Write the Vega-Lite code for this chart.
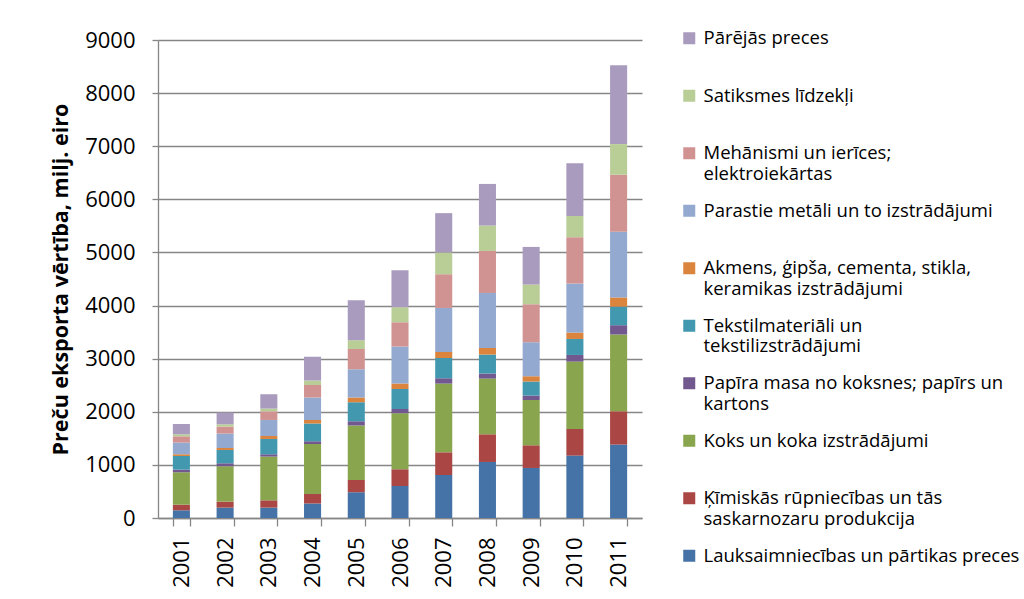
{
  "$schema": "https://vega.github.io/schema/vega-lite/v6.json",
  "autosize": "none",
  "width": 484,
  "height": 478,
  "padding": {"left": 158, "top": 40, "right": 382, "bottom": 81},
  "background": "white",
  "data": {"values": [
    {"year":"2001","cat":"Lauksaimniecības un pārtikas preces","v":145},
    {"year":"2001","cat":"Ķīmiskās rūpniecības un tās saskarnozaru produkcija","v":107},
    {"year":"2001","cat":"Koks un koka izstrādājumi","v":609},
    {"year":"2001","cat":"Papīra masa no koksnes; papīrs un kartons","v":50},
    {"year":"2001","cat":"Tekstilmateriāli un tekstilizstrādājumi","v":257},
    {"year":"2001","cat":"Akmens, ģipša, cementa, stikla, keramikas izstrādājumi","v":32},
    {"year":"2001","cat":"Parastie metāli un to izstrādājumi","v":220},
    {"year":"2001","cat":"Mehānismi un ierīces; elektroiekārtas","v":118},
    {"year":"2001","cat":"Satiksmes līdzekļi","v":38},
    {"year":"2001","cat":"Pārējās preces","v":194},
    {"year":"2002","cat":"Lauksaimniecības un pārtikas preces","v":196},
    {"year":"2002","cat":"Ķīmiskās rūpniecības un tās saskarnozaru produkcija","v":113},
    {"year":"2002","cat":"Koks un koka izstrādājumi","v":665},
    {"year":"2002","cat":"Papīra masa no koksnes; papīrs un kartons","v":56},
    {"year":"2002","cat":"Tekstilmateriāli un tekstilizstrādājumi","v":251},
    {"year":"2002","cat":"Akmens, ģipša, cementa, stikla, keramikas izstrādājumi","v":37},
    {"year":"2002","cat":"Parastie metāli un to izstrādājumi","v":271},
    {"year":"2002","cat":"Mehānismi un ierīces; elektroiekārtas","v":132},
    {"year":"2002","cat":"Satiksmes līdzekļi","v":44},
    {"year":"2002","cat":"Pārējās preces","v":220},
    {"year":"2003","cat":"Lauksaimniecības un pārtikas preces","v":196},
    {"year":"2003","cat":"Ķīmiskās rūpniecības un tās saskarnozaru produkcija","v":137},
    {"year":"2003","cat":"Koks un koka izstrādājumi","v":823},
    {"year":"2003","cat":"Papīra masa no koksnes; papīrs un kartons","v":44},
    {"year":"2003","cat":"Tekstilmateriāli un tekstilizstrādājumi","v":288},
    {"year":"2003","cat":"Akmens, ģipša, cementa, stikla, keramikas izstrādājumi","v":56},
    {"year":"2003","cat":"Parastie metāli un to izstrādājumi","v":302},
    {"year":"2003","cat":"Mehānismi un ierīces; elektroiekārtas","v":163},
    {"year":"2003","cat":"Satiksmes līdzekļi","v":51},
    {"year":"2003","cat":"Pārējās preces","v":270},
    {"year":"2004","cat":"Lauksaimniecības un pārtikas preces","v":275},
    {"year":"2004","cat":"Ķīmiskās rūpniecības un tās saskarnozaru produkcija","v":177},
    {"year":"2004","cat":"Koks un koka izstrādājumi","v":940},
    {"year":"2004","cat":"Papīra masa no koksnes; papīrs un kartons","v":52},
    {"year":"2004","cat":"Tekstilmateriāli un tekstilizstrādājumi","v":334},
    {"year":"2004","cat":"Akmens, ģipša, cementa, stikla, keramikas izstrādājumi","v":66},
    {"year":"2004","cat":"Parastie metāli un to izstrādājumi","v":427},
    {"year":"2004","cat":"Mehānismi un ierīces; elektroiekārtas","v":232},
    {"year":"2004","cat":"Satiksmes līdzekļi","v":88},
    {"year":"2004","cat":"Pārējās preces","v":447},
    {"year":"2005","cat":"Lauksaimniecības un pārtikas preces","v":484},
    {"year":"2005","cat":"Ķīmiskās rūpniecības un tās saskarnozaru produkcija","v":232},
    {"year":"2005","cat":"Koks un koka izstrādājumi","v":1024},
    {"year":"2005","cat":"Papīra masa no koksnes; papīrs un kartons","v":81},
    {"year":"2005","cat":"Tekstilmateriāli un tekstilizstrādājumi","v":358},
    {"year":"2005","cat":"Akmens, ģipša, cementa, stikla, keramikas izstrādājumi","v":88},
    {"year":"2005","cat":"Parastie metāli un to izstrādājumi","v":533},
    {"year":"2005","cat":"Mehānismi un ierīces; elektroiekārtas","v":383},
    {"year":"2005","cat":"Satiksmes līdzekļi","v":164},
    {"year":"2005","cat":"Pārējās preces","v":753},
    {"year":"2006","cat":"Lauksaimniecības un pārtikas preces","v":603},
    {"year":"2006","cat":"Ķīmiskās rūpniecības un tās saskarnozaru produkcija","v":314},
    {"year":"2006","cat":"Koks un koka izstrādājumi","v":1055},
    {"year":"2006","cat":"Papīra masa no koksnes; papīrs un kartons","v":81},
    {"year":"2006","cat":"Tekstilmateriāli un tekstilizstrādājumi","v":376},
    {"year":"2006","cat":"Akmens, ģipša, cementa, stikla, keramikas izstrādājumi","v":102},
    {"year":"2006","cat":"Parastie metāli un to izstrādājumi","v":697},
    {"year":"2006","cat":"Mehānismi un ierīces; elektroiekārtas","v":457},
    {"year":"2006","cat":"Satiksmes līdzekļi","v":283},
    {"year":"2006","cat":"Pārējās preces","v":697},
    {"year":"2007","cat":"Lauksaimniecības un pārtikas preces","v":810},
    {"year":"2007","cat":"Ķīmiskās rūpniecības un tās saskarnozaru produkcija","v":427},
    {"year":"2007","cat":"Koks un koka izstrādājumi","v":1294},
    {"year":"2007","cat":"Papīra masa no koksnes; papīrs un kartons","v":100},
    {"year":"2007","cat":"Tekstilmateriāli un tekstilizstrādājumi","v":382},
    {"year":"2007","cat":"Akmens, ģipša, cementa, stikla, keramikas izstrādājumi","v":113},
    {"year":"2007","cat":"Parastie metāli un to izstrādājumi","v":829},
    {"year":"2007","cat":"Mehānismi un ierīces; elektroiekārtas","v":635},
    {"year":"2007","cat":"Satiksmes līdzekļi","v":410},
    {"year":"2007","cat":"Pārējās preces","v":740},
    {"year":"2008","cat":"Lauksaimniecības un pārtikas preces","v":1055},
    {"year":"2008","cat":"Ķīmiskās rūpniecības un tās saskarnozaru produkcija","v":521},
    {"year":"2008","cat":"Koks un koka izstrādājumi","v":1049},
    {"year":"2008","cat":"Papīra masa no koksnes; papīrs un kartons","v":94},
    {"year":"2008","cat":"Tekstilmateriāli un tekstilizstrādājumi","v":358},
    {"year":"2008","cat":"Akmens, ģipša, cementa, stikla, keramikas izstrādājumi","v":125},
    {"year":"2008","cat":"Parastie metāli un to izstrādājumi","v":1035},
    {"year":"2008","cat":"Mehānismi un ierīces; elektroiekārtas","v":791},
    {"year":"2008","cat":"Satiksmes līdzekļi","v":479},
    {"year":"2008","cat":"Pārējās preces","v":783},
    {"year":"2009","cat":"Lauksaimniecības un pārtikas preces","v":942},
    {"year":"2009","cat":"Ķīmiskās rūpniecības un tās saskarnozaru produkcija","v":427},
    {"year":"2009","cat":"Koks un koka izstrādājumi","v":853},
    {"year":"2009","cat":"Papīra masa no koksnes; papīrs un kartons","v":83},
    {"year":"2009","cat":"Tekstilmateriāli un tekstilizstrādājumi","v":264},
    {"year":"2009","cat":"Akmens, ģipša, cementa, stikla, keramikas izstrādājumi","v":100},
    {"year":"2009","cat":"Parastie metāli un to izstrādājumi","v":640},
    {"year":"2009","cat":"Mehānismi un ierīces; elektroiekārtas","v":716},
    {"year":"2009","cat":"Satiksmes līdzekļi","v":370},
    {"year":"2009","cat":"Pārējās preces","v":709},
    {"year":"2010","cat":"Lauksaimniecības un pārtikas preces","v":1175},
    {"year":"2010","cat":"Ķīmiskās rūpniecības un tās saskarnozaru produkcija","v":501},
    {"year":"2010","cat":"Koks un koka izstrādājumi","v":1269},
    {"year":"2010","cat":"Papīra masa no koksnes; papīrs un kartons","v":125},
    {"year":"2010","cat":"Tekstilmateriāli un tekstilizstrādājumi","v":301},
    {"year":"2010","cat":"Akmens, ģipša, cementa, stikla, keramikas izstrādājumi","v":120},
    {"year":"2010","cat":"Parastie metāli un to izstrādājumi","v":923},
    {"year":"2010","cat":"Mehānismi un ierīces; elektroiekārtas","v":872},
    {"year":"2010","cat":"Satiksmes līdzekļi","v":401},
    {"year":"2010","cat":"Pārējās preces","v":993},
    {"year":"2011","cat":"Lauksaimniecības un pārtikas preces","v":1383},
    {"year":"2011","cat":"Ķīmiskās rūpniecības un tās saskarnozaru produkcija","v":627},
    {"year":"2011","cat":"Koks un koka izstrādājumi","v":1445},
    {"year":"2011","cat":"Papīra masa no koksnes; papīrs un kartons","v":175},
    {"year":"2011","cat":"Tekstilmateriāli un tekstilizstrādājumi","v":350},
    {"year":"2011","cat":"Akmens, ģipša, cementa, stikla, keramikas izstrādājumi","v":173},
    {"year":"2011","cat":"Parastie metāli un to izstrādājumi","v":1237},
    {"year":"2011","cat":"Mehānismi un ierīces; elektroiekārtas","v":1073},
    {"year":"2011","cat":"Satiksmes līdzekļi","v":577},
    {"year":"2011","cat":"Pārējās preces","v":1485}
  ]},
  "transform": [
    {"calculate": "indexof(['Lauksaimniecības un pārtikas preces','Ķīmiskās rūpniecības un tās saskarnozaru produkcija','Koks un koka izstrādājumi','Papīra masa no koksnes; papīrs un kartons','Tekstilmateriāli un tekstilizstrādājumi','Akmens, ģipša, cementa, stikla, keramikas izstrādājumi','Parastie metāli un to izstrādājumi','Mehānismi un ierīces; elektroiekārtas','Satiksmes līdzekļi','Pārējās preces'], datum.cat)", "as": "ord"}
  ],
  "mark": {"type": "bar"},
  "encoding": {
    "x": {
      "field": "year", "type": "nominal", "title": null,
      "scale": {"paddingInner": 0.61, "paddingOuter": 0.34},
      "axis": {"labelAngle": -90, "labelAlign": "right", "labelBaseline": "middle", "labelFontSize": 22, "labelFont": "Open Sans", "labelColor": "#000000", "labelPadding": 11, "tickBand": "extent", "tickSize": 8, "tickColor": "#868686", "domainColor": "#868686", "tickWidth": 1.3, "domainWidth": 1.3}
    },
    "y": {
      "field": "v", "type": "quantitative", "stack": "zero",
      "title": "Preču eksporta vērtība, milj. eiro",
      "scale": {"domain": [0, 9000], "nice": false},
      "axis": {"values": [0,1000,2000,3000,4000,5000,6000,7000,8000,9000], "format": "d", "labelFontSize": 22, "labelFont": "Open Sans", "labelColor": "#000000", "labelPadding": 17, "tickSize": 6, "tickColor": "#868686", "domainColor": "#868686", "tickWidth": 1.3, "domainWidth": 1.3, "grid": true, "gridColor": "#868686", "gridWidth": 1.3, "titleFont": "Open Sans", "titleFontSize": 21.5, "titleFontWeight": "bold", "titleColor": "#000000", "titlePadding": 12}
    },
    "color": {
      "field": "cat", "type": "nominal", "title": null,
      "scale": {
        "domain": ["Pārējās preces","Satiksmes līdzekļi","Mehānismi un ierīces; elektroiekārtas","Parastie metāli un to izstrādājumi","Akmens, ģipša, cementa, stikla, keramikas izstrādājumi","Tekstilmateriāli un tekstilizstrādājumi","Papīra masa no koksnes; papīrs un kartons","Koks un koka izstrādājumi","Ķīmiskās rūpniecības un tās saskarnozaru produkcija","Lauksaimniecības un pārtikas preces"],
        "range": ["#A99BBD","#B9CD96","#D19392","#93A9CF","#DB843D","#4198AF","#71588F","#89A54E","#AA4643","#4572A7"]
      },
      "legend": {
        "orient": "none", "legendX": 522, "legendY": -11,
        "symbolType": "square", "symbolSize": 144, "symbolStrokeWidth": 0,
        "labelFont": "Open Sans", "labelFontSize": 18.5, "labelColor": "#000000", "labelLimit": 400, "labelBaseline": "alphabetic", "labelOffset": 5,
        "rowPadding": 17.5,
        "encode": {"labels": {"update": {"dy": {"value": 6}}}},
        "labelExpr": "datum.label == 'Mehānismi un ierīces; elektroiekārtas' ? ['Mehānismi un ierīces;', 'elektroiekārtas'] : datum.label == 'Akmens, ģipša, cementa, stikla, keramikas izstrādājumi' ? ['Akmens, ģipša, cementa, stikla,', 'keramikas izstrādājumi'] : datum.label == 'Tekstilmateriāli un tekstilizstrādājumi' ? ['Tekstilmateriāli un', 'tekstilizstrādājumi'] : datum.label == 'Papīra masa no koksnes; papīrs un kartons' ? ['Papīra masa no koksnes; papīrs un', 'kartons'] : datum.label == 'Ķīmiskās rūpniecības un tās saskarnozaru produkcija' ? ['Ķīmiskās rūpniecības un tās', 'saskarnozaru produkcija'] : [datum.label, ' ']"
      }
    },
    "order": {"field": "ord", "type": "quantitative", "sort": "ascending"}
  },
  "config": {"view": {"stroke": null}, "legend": {"labelLineHeight": 23.5}}
}
